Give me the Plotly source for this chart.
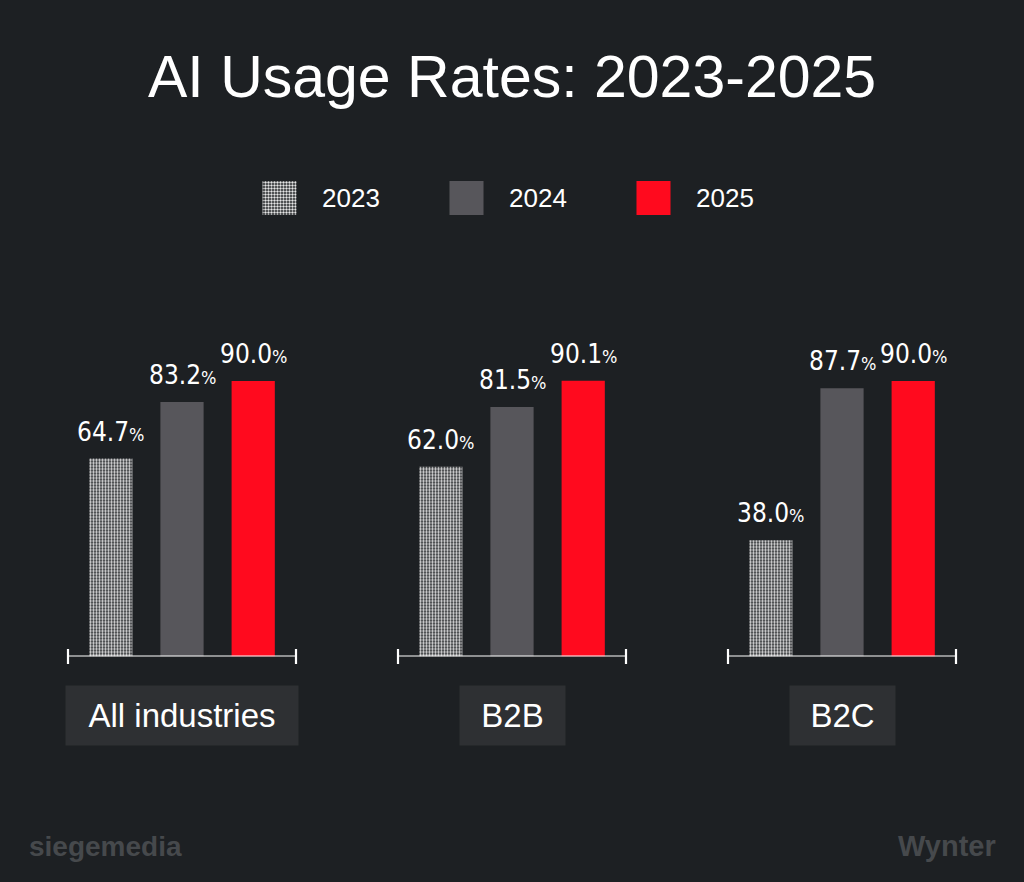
import plotly.graph_objects as go

# ---- data ----
years = ["2023", "2024", "2025"]
groups = ["All industries", "B2B", "B2C"]
all_industries = [64.7, 83.2, 90.0]
b2b = [62.0, 81.5, 90.1]
b2c = [38.0, 87.7, 90.0]
series = [all_industries, b2b, b2c]

# ---- styles ----
BG = "#1d2023"
BAR_COLORS = ["#e6e6e6", "#57565b", "#ff0a1e"]
PAT_SHAPES = [".", "", ""]
PAT_BG = ["#2a2b2d", BG, BG]
LABEL_FONT = "DejaVu Sans Condensed, Liberation Sans Narrow, sans-serif"
MAIN_FONT = "Liberation Sans, Arial, sans-serif"

W, H = 1024, 882
def px_x(p):
    return p / W
def px_y(p):
    return (H - p) / H

group_domains = [(68, 296), (398, 626), (728, 956)]
y_bottom_px = 656.5
px_per_pct = 3.06
y_top_px = y_bottom_px - 100 * px_per_pct

fig = go.Figure()
axis_ids = ["", "2", "3"]

for gi, (vals, gname) in enumerate(zip(series, groups)):
    ax = axis_ids[gi]
    fig.add_trace(go.Bar(
        x=years, y=vals,
        xaxis="x" + ax, yaxis="y" + ax,
        width=0.607,
        marker=dict(
            color=BAR_COLORS,
            line=dict(width=0),
            pattern=dict(shape=PAT_SHAPES, size=3, solidity=0.5,
                         fgcolor=BAR_COLORS, bgcolor=PAT_BG, fillmode="replace"),
        ),
        showlegend=False,
        hoverinfo="skip",
    ))
    # value labels (category index positions)
    for i, v in enumerate(vals):
        fig.add_annotation(
            x=i, y=v, xref="x" + ax, yref="y" + ax,
            text=f"{v:.1f}<span style='font-size:18px'>%</span>",
            showarrow=False, yanchor="bottom", yshift=10,
            font=dict(family=LABEL_FONT, size=26, color="white"),
        )
    # category label box
    box_w = 232 if gi == 0 else 105
    fig.add_annotation(
        x=0.5, xref=("x" + ax + " domain"),
        y=px_y(715), yref="paper",
        text=gname, showarrow=False,
        xanchor="center", yanchor="middle",
        width=box_w, height=59, borderpad=0,
        bgcolor="#2e3033",
        font=dict(family=MAIN_FONT, size=33, color="white"),
    )
    # baseline with end caps
    fig.add_shape(type="line", xref="x" + ax + " domain", yref="y" + ax,
                  x0=0, x1=1, y0=0, y1=0, line=dict(color="white", width=2.2), layer="above")
    for xe in (0, 1):
        fig.add_shape(type="line", xref="x" + ax + " domain", yref="paper",
                      x0=xe, x1=xe, y0=px_y(649), y1=px_y(664),
                      line=dict(color="white", width=2.2), layer="above")

layout_axes = {}
for gi, (d0, d1) in enumerate(group_domains):
    suffix = "" if gi == 0 else str(gi + 1)
    layout_axes["xaxis" + suffix] = dict(
        domain=[px_x(d0), px_x(d1)], range=[-0.601, 2.601], type="category",
        showgrid=False, zeroline=False, showline=False, showticklabels=False,
        anchor="y" + suffix, fixedrange=True,
    )
    layout_axes["yaxis" + suffix] = dict(
        domain=[px_y(y_bottom_px), px_y(y_top_px)], range=[0, 100],
        showgrid=False, zeroline=False, showline=False, showticklabels=False,
        anchor="x" + suffix, fixedrange=True,
    )

# ---- legend drawn as its own small bar chart ----
legend_vals = [1, 1, 1]
fig.add_trace(go.Bar(
    x=years, y=legend_vals, xaxis="x4", yaxis="y4",
    width=0.182,
    marker=dict(
        color=BAR_COLORS, line=dict(width=0),
        pattern=dict(shape=PAT_SHAPES, size=3, solidity=0.5,
                     fgcolor=BAR_COLORS, bgcolor=PAT_BG, fillmode="replace"),
    ),
    showlegend=False, hoverinfo="skip",
))
for i, yr in enumerate(years):
    fig.add_annotation(
        x=i, y=0.5, xref="x4", yref="y4", text=yr, showarrow=False,
        xanchor="left", yanchor="middle", xshift=40,
        font=dict(family=MAIN_FONT, size=26, color="white"),
    )
layout_axes["xaxis4"] = dict(
    domain=[px_x(186), px_x(747)], range=[-0.5, 2.5], type="category",
    showgrid=False, zeroline=False, showline=False, showticklabels=False,
    anchor="y4", fixedrange=True,
)
layout_axes["yaxis4"] = dict(
    domain=[px_y(215), px_y(181)], range=[0, 1],
    showgrid=False, zeroline=False, showline=False, showticklabels=False,
    anchor="x4", fixedrange=True,
)

# ---- title & branding ----
fig.add_annotation(
    x=0.5, y=px_y(77), xref="paper", yref="paper",
    text="AI Usage Rates: 2023-2025", showarrow=False,
    xanchor="center", yanchor="middle",
    font=dict(family=MAIN_FONT, size=59, color="white"),
)
fig.add_annotation(
    x=px_x(27), y=px_y(846), xref="paper", yref="paper",
    text="<b>siegemedia</b>", showarrow=False,
    xanchor="left", yanchor="middle",
    font=dict(family=MAIN_FONT, size=28, color="#46494c"),
)
fig.add_annotation(
    x=px_x(998), y=px_y(846), xref="paper", yref="paper",
    text="<b>Wynter</b>", showarrow=False,
    xanchor="right", yanchor="middle",
    font=dict(family=MAIN_FONT, size=29, color="#46494c"),
)

fig.update_layout(
    width=W, height=H, autosize=False,
    margin=dict(l=0, r=0, t=0, b=0),
    paper_bgcolor=BG, plot_bgcolor=BG,
    showlegend=False, barmode="group",
    **layout_axes,
)

fig.write_html("out.html", config={"displayModeBar": False})
